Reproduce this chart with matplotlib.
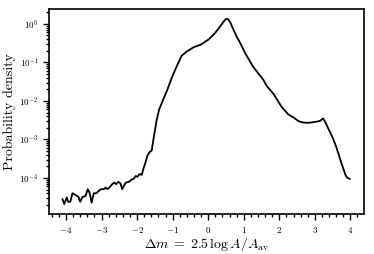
import numpy as np
import matplotlib
matplotlib.use("Agg")
import matplotlib.pyplot as plt
from matplotlib.ticker import MultipleLocator, LogLocator, NullFormatter

plt.rcParams['font.family'] = 'serif'
plt.rcParams['font.serif'] = ['cmr10']
plt.rcParams['mathtext.fontset'] = 'cm'
plt.rcParams['axes.formatter.use_mathtext'] = True

# magnitude difference and probability density
dm = [-4.10, -4.05, -3.98, -3.94, -3.88, -3.82, -3.73, -3.65, -3.60, -3.54,
      -3.45, -3.39, -3.34, -3.28, -3.22, -3.15, -3.09, -3.02, -2.94, -2.89,
      -2.83, -2.76, -2.70, -2.64, -2.59, -2.53, -2.47, -2.42, -2.36, -2.31,
      -2.23, -2.17, -2.10, -2.04, -1.99, -1.93, -1.87, -1.82, -1.76, -1.71,
      -1.64, -1.59, -1.53, -1.45, -1.38, -1.27, -1.15, -1.03, -0.89, -0.75,
      -0.61, -0.42, -0.21, 0.02, 0.19, 0.33, 0.45, 0.50, 0.56, 0.62,
      0.71, 0.80, 0.90, 1.04, 1.26, 1.55, 1.64, 1.84, 2.06, 2.25,
      2.40, 2.55, 2.67, 2.80, 2.90, 3.05, 3.14, 3.23, 3.30, 3.40,
      3.50, 3.60, 3.75, 3.87, 3.92, 3.98]
pdf = [2.8e-5, 2.1e-5, 3.1e-5, 2.4e-5, 2.4e-5, 4.0e-5, 3.6e-5, 3.2e-5, 2.4e-5, 3.2e-5,
       3.4e-5, 5.1e-5, 4.2e-5, 2.3e-5, 4.0e-5, 4.0e-5, 4.5e-5, 5.1e-5, 5.1e-5, 5.6e-5,
       5.1e-5, 5.9e-5, 6.9e-5, 7.6e-5, 6.9e-5, 7.9e-5, 7.2e-5, 5.1e-5, 6.6e-5, 7.6e-5,
       7.9e-5, 8.9e-5, 9.5e-5, 1.12e-4, 1.07e-4, 1.26e-4, 1.20e-4, 1.78e-4, 2.6e-4, 3.8e-4,
       4.8e-4, 5.1e-4, 1.17e-3, 3.2e-3, 6.0e-3, 1.07e-2, 1.95e-2, 3.9e-2, 7.8e-2, 0.148,
       0.19, 0.245, 0.29, 0.40, 0.575, 0.85, 1.20, 1.35, 1.32, 1.10,
       0.71, 0.47, 0.32, 0.174, 0.078, 0.0355, 0.025, 0.0151, 7.1e-3, 4.5e-3,
       3.7e-3, 2.95e-3, 2.75e-3, 2.7e-3, 2.75e-3, 2.9e-3, 3.0e-3, 3.5e-3, 2.75e-3, 1.74e-3,
       1.12e-3, 6.5e-4, 2.4e-4, 1.15e-4, 1.0e-4, 9.5e-5]

fig = plt.figure(figsize=(3.74, 2.54), dpi=100)
ax = fig.add_axes([0.131, 0.157, 0.841, 0.808])
ax.plot(dm, pdf, color='black', linewidth=1.3)
ax.set_yscale('log')
ax.set_xlim(-4.48, 4.37)
ax.set_ylim(10**-4.94, 10**0.39)

ax.xaxis.set_major_locator(MultipleLocator(1))
ax.xaxis.set_minor_locator(MultipleLocator(0.2))
ax.yaxis.set_major_locator(LogLocator(base=10, numticks=10))
ax.yaxis.set_minor_locator(LogLocator(base=10, subs=np.arange(2, 10), numticks=20))
ax.yaxis.set_minor_formatter(NullFormatter())

ax.tick_params(which='both', direction='out', top=False, right=False, labelsize=6.5, width=1)
ax.tick_params(which='major', length=4)
ax.tick_params(which='minor', length=2.5)
for s in ax.spines.values():
    s.set_linewidth(1.2)

ax.set_xlabel(r'$\Delta m\;=\;2.5\,\log A/A_{\rm av}$', fontsize=10, labelpad=0)
ax.set_ylabel('Probability density', fontsize=10, labelpad=2)

fig.savefig('out.png', dpi=100)
